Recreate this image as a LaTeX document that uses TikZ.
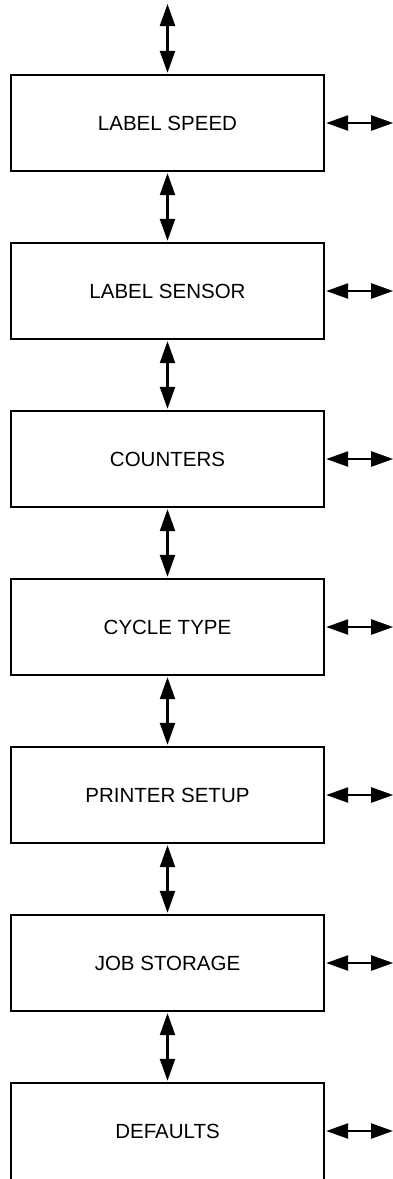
\documentclass[tikz,border=0pt]{standalone}
\usepackage{fontspec}
\setmainfont{Liberation Sans}
\usetikzlibrary{arrows.meta}
\begin{document}
\begin{tikzpicture}[x=1pt,y=-1pt,
  menubox/.style={draw=black,line width=2.4pt,minimum width=313pt,minimum height=96pt,inner sep=0pt,font=\fontsize{20.5}{24}\selectfont,anchor=center},
  link/.style={line width=2.4pt,{Triangle[length=22pt,width=15pt]}-{Triangle[length=22pt,width=15pt]},shorten <=1pt,shorten >=1pt}]
\useasboundingbox (0,0) rectangle (393,1179);
\node[menubox] (b1) at (167.5,123) {LABEL SPEED};
\node[menubox] (b2) at (167.5,291) {LABEL SENSOR};
\node[menubox] (b3) at (167.5,459) {COUNTERS};
\node[menubox] (b4) at (167.5,627) {CYCLE TYPE};
\node[menubox] (b5) at (167.5,795) {PRINTER SETUP};
\node[menubox] (b6) at (167.5,963) {JOB STORAGE};
\node[menubox,minimum height=104pt,label={[font=\fontsize{20.5}{24}\selectfont,yshift=4pt]center:DEFAULTS}] (b7) at (167.5,1135) {};
\coordinate (top) at (167.5,4);
\draw[link,shorten <=0pt] (top) -- (b1.north);
\foreach \a/\b in {b1/b2,b2/b3,b3/b4,b4/b5,b5/b6,b6/b7}{
  \draw[link] (\a.south) -- (\b.north);
}
\foreach \n in {b1,b2,b3,b4,b5,b6}{
  \coordinate (\n r) at ([xshift=68pt]\n.east);
  \draw[link,shorten >=0pt] (\n.east) -- (\n r);
}
\coordinate (b7r) at (393,1131);
\draw[link,shorten >=0pt] (b7.east |- b7r) -- (b7r);
\end{tikzpicture}
\end{document}
